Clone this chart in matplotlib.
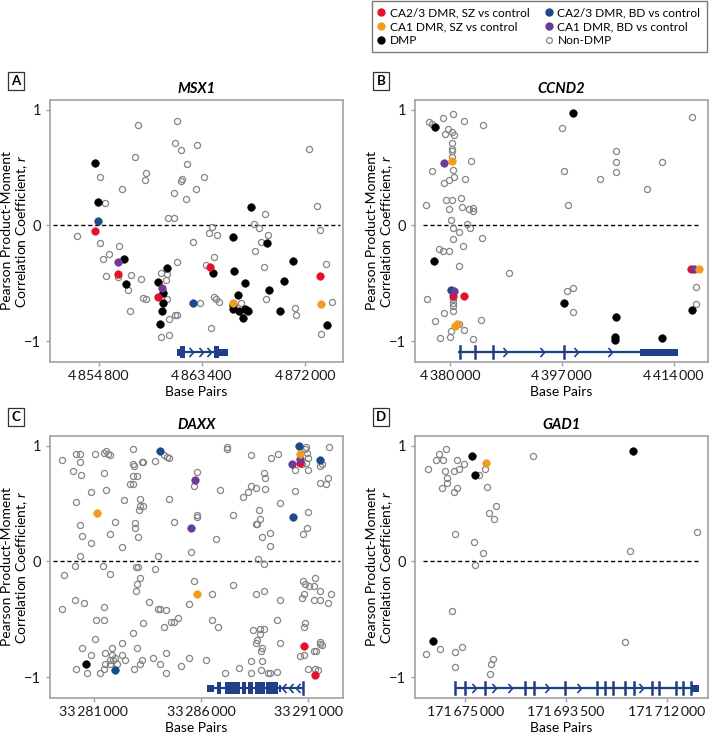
import numpy as np
import matplotlib
matplotlib.use("Agg")
import matplotlib.pyplot as plt
from matplotlib.path import Path
from matplotlib.patches import Rectangle
from matplotlib.lines import Line2D
from matplotlib.ticker import FuncFormatter, FixedLocator

plt.rcParams['font.family'] = ['Lato', 'DejaVu Sans']
plt.rcParams['mathtext.fontset'] = 'custom'
plt.rcParams['mathtext.it'] = 'Lato:italic'
plt.rcParams['mathtext.rm'] = 'Lato'

RED = '#e3122c'
ORANGE = '#f29b1e'
NAVY = '#1b4a88'
PURPLE = '#6c3b97'
GENE = '#1f3f88'
GREY_EDGE = '#858585'
SPINE = '#a3a3a3'

# (position in kb, Pearson r)
MSX1_NONDMP = [(4853.04, -0.09), (4854.88, -0.15), (4854.94, 0.42), (4855.30, 0.19), (4855.16, -0.29),
               (4855.69, -0.25), (4855.44, -0.44), (4856.53, -0.18), (4856.75, 0.31), (4856.39, -0.45),
               (4857.26, -0.56), (4857.45, -0.74), (4857.54, -0.43), (4857.87, 0.59), (4858.07, 0.87),
               (4858.35, -0.46), (4858.51, -0.63), (4858.77, -0.64), (4858.63, 0.39), (4858.77, 0.45),
               (4859.97, -0.41), (4860.52, -0.42), (4860.44, -0.47), (4860.19, -0.58), (4860.52, -0.64),
               (4860.61, 0.06), (4861.08, 0.06), (4861.08, 0.28), (4861.17, 0.71), (4861.36, 0.90),
               (4861.64, 0.65), (4861.78, 0.40), (4861.64, 0.38), (4862.12, 0.23), (4862.20, 0.53),
               (4861.36, -0.32), (4861.31, -0.77), (4861.14, -0.77), (4860.66, -0.81), (4860.02, -0.96),
               (4860.66, -0.95), (4862.90, 0.31), (4862.98, 0.69), (4863.60, 0.42), (4862.70, -0.14),
               (4863.26, -0.67), (4863.79, -0.34), (4864.04, -0.07), (4864.24, -0.01), (4864.43, -0.27),
               (4864.66, -0.08), (4864.43, -0.62), (4864.57, -0.64), (4864.80, -0.66), (4864.21, -0.89),
               (4866.67, -0.67), (4866.67, -0.75), (4867.28, -0.73), (4867.73, 0.01), (4867.87, -0.22),
               (4868.20, -0.02), (4868.34, -0.14), (4868.68, 0.10), (4868.96, -0.08), (4868.59, -0.36),
               (4868.76, -0.64), (4871.19, -0.71), (4871.27, -0.77), (4872.31, 0.66), (4873.03, 0.17),
               (4873.23, -0.04), (4873.31, -0.94), (4873.79, -0.33), (4874.29, -0.66)]
MSX1_DMP = [(4854.52, 0.54), (4854.74, 0.20), (4856.89, -0.29), (4857.12, -0.51), (4859.77, -0.49),
            (4860.19, -0.58), (4860.19, -0.67), (4860.05, -0.74), (4859.91, -0.85), (4860.52, -0.37),
            (4864.35, -0.41), (4865.97, -0.10), (4866.11, -0.39), (4866.39, -0.60), (4865.97, -0.69),
            (4866.05, -0.72), (4866.47, -0.74), (4866.86, -0.80), (4867.03, -0.50), (4867.03, -0.72),
            (4867.28, -0.74), (4867.50, 0.16), (4868.84, -0.15), (4869.01, -0.56), (4870.30, -0.48),
            (4870.99, -0.31), (4869.96, -0.74), (4873.84, -0.86)]
MSX1_CA23_SZ = [(4854.52, -0.05), (4856.39, -0.42), (4859.77, -0.62), (4864.07, -0.36), (4873.23, -0.44)]
MSX1_CA23_BD = [(4854.74, 0.04), (4862.70, -0.67)]
MSX1_CA1_BD = [(4856.39, -0.32), (4860.08, -0.54)]
MSX1_CA1_SZ = [(4865.97, -0.67), (4873.31, -0.68)]

CCND2_NONDMP = [(4376.46, -0.64), (4376.36, 0.18), (4376.86, 0.89), (4377.32, 0.88), (4377.27, 0.47),
                (4377.72, -0.83), (4378.38, -0.20), (4378.48, -0.97), (4378.89, -0.22), (4378.99, 0.93),
                (4379.14, 0.37), (4379.24, 0.79), (4379.34, 0.22), (4379.09, -0.76), (4379.90, 0.14),
                (4379.75, 0.83), (4379.90, 0.39), (4379.90, -0.22), (4380.10, 0.05), (4380.25, 0.81),
                (4380.25, 0.22), (4380.25, 0.71), (4380.25, 0.66), (4380.25, 0.64), (4380.30, 0.59),
                (4380.61, 0.78), (4380.51, 0.96), (4380.51, -0.02), (4380.51, -0.12), (4380.51, 0.48),
                (4380.61, 0.42), (4380.51, -0.64), (4380.51, -0.67), (4380.51, -0.70), (4380.51, -0.74),
                (4380.10, -0.91), (4380.00, -0.96), (4381.42, -0.85), (4382.18, -0.90), (4381.42, -0.06),
                (4381.42, -0.35), (4381.62, 0.24), (4381.77, 0.16), (4381.92, -0.18), (4382.13, 0.90),
                (4382.28, 0.40), (4382.53, 0.01), (4382.93, 0.14), (4383.14, 0.56), (4383.04, -0.02),
                (4383.44, 0.15), (4383.44, 0.12), (4383.44, -0.98), (4384.81, -0.11), (4384.71, -0.82),
                (4385.06, 0.87), (4388.96, -0.41), (4397.10, 0.84), (4397.31, 0.47), (4397.91, 0.18),
                (4397.81, -0.57), (4398.72, -0.54), (4398.72, -0.75), (4402.77, 0.40), (4405.20, 0.64),
                (4405.20, 0.55), (4405.20, 0.46), (4410.01, 0.31), (4412.28, 0.55), (4416.79, 0.94),
                (4417.34, -0.53), (4417.34, -0.68)]
CCND2_DMP = [(4377.72, 0.85), (4377.57, -0.31), (4398.72, 0.97), (4397.31, -0.67), (4405.20, -0.79),
             (4405.15, -0.96), (4405.05, -0.99), (4412.23, -0.97), (4416.79, -0.73)]
CCND2_CA23_SZ = [(4380.40, -0.61), (4382.13, -0.61), (4416.69, -0.38)]
CCND2_CA23_BD = [(4380.10, -0.56)]
CCND2_CA1_BD = [(4379.14, 0.54), (4380.66, -0.57), (4417.09, -0.38)]
CCND2_CA1_SZ = [(4380.25, 0.56), (4381.01, -0.85), (4380.76, -0.87), (4417.85, -0.38)]

DAXX_NONDMP = [(33279.52, 0.88), (33280.19, 0.93), (33280.38, 0.93), (33280.38, 0.86), (33281.05, 0.93),
               (33281.50, 0.94), (33281.56, 0.955), (33281.65, 0.93), (33281.78, 0.915), (33282.84, 0.97),
               (33282.84, 0.84), (33282.87, 0.82), (33283.26, 0.86), (33283.32, 0.86), (33283.85, 0.87),
               (33284.26, 0.915), (33284.43, 0.90), (33284.51, 0.89), (33287.21, 0.97), (33287.21, 0.99),
               (33288.34, 0.92), (33289.26, 0.89), (33289.60, 0.93), (33290.89, 0.99), (33290.85, 0.97),
               (33290.93, 0.94), (33290.99, 0.89), (33290.71, 0.84), (33290.89, 0.85), (33290.99, 0.79),
               (33290.39, 0.79), (33291.52, 0.82), (33291.63, 0.84), (33291.95, 0.99), (33280.03, 0.78),
               (33280.42, 0.75), (33281.47, 0.76), (33282.84, 0.74), (33283.03, 0.74), (33282.71, 0.67),
               (33282.84, 0.67), (33285.79, 0.77), (33285.66, 0.65), (33288.95, 0.76), (33288.99, 0.72),
               (33288.56, 0.63), (33288.99, 0.625), (33287.96, 0.555), (33288.17, 0.595), (33288.34, 0.65),
               (33291.52, 0.68), (33291.83, 0.67), (33291.91, 0.72), (33280.88, 0.60), (33281.56, 0.62),
               (33280.19, 0.51), (33282.40, 0.53), (33283.17, 0.54), (33283.17, 0.48), (33283.32, 0.48),
               (33283.10, 0.44), (33284.51, 0.54), (33286.87, 0.62), (33287.51, 0.40), (33288.71, 0.44),
               (33289.67, 0.50), (33290.39, 0.61), (33290.99, 0.43), (33280.38, 0.31), (33280.45, 0.22),
               (33280.88, 0.16), (33281.75, 0.24), (33281.98, 0.34), (33282.95, 0.33), (33282.95, 0.29),
               (33283.06, 0.21), (33284.75, 0.34), (33285.79, 0.385), (33285.83, 0.40), (33286.69, 0.19),
               (33288.56, 0.325), (33288.60, 0.32), (33288.76, 0.37), (33288.83, 0.21), (33289.23, 0.245),
               (33289.23, 0.13), (33290.93, 0.29), (33290.74, 0.24), (33280.38, 0.05), (33282.31, 0.127),
               (33283.98, 0.048), (33285.55, 0.08), (33288.67, 0.017), (33288.95, -0.026),
               (33280.14, -0.04), (33279.64, -0.12), (33281.42, -0.04), (33281.75, -0.107), (33282.99, -0.05),
               (33283.06, -0.05), (33283.17, -0.14), (33283.03, -0.193), (33282.99, -0.254), (33283.85, -0.066),
               (33279.52, -0.41), (33280.14, -0.33), (33280.56, -0.36), (33281.11, -0.505), (33281.50, -0.505),
               (33281.50, -0.398), (33283.60, -0.349), (33283.98, -0.41), (33284.10, -0.41), (33284.38, -0.42),
               (33284.26, -0.565), (33284.61, -0.522), (33284.75, -0.522), (33284.94, -0.488), (33285.66, -0.173),
               (33285.45, -0.372), (33286.52, -0.28), (33286.52, -0.505), (33286.80, -0.565), (33287.51, -0.202),
               (33288.56, -0.28), (33288.95, -0.254), (33289.67, -0.33), (33289.55, -0.505), (33290.74, -0.173),
               (33290.85, -0.193), (33290.80, -0.28), (33290.71, -0.312), (33291.05, -0.215), (33291.28, -0.215),
               (33291.32, -0.14), (33291.52, -0.254), (33291.28, -0.33), (33291.52, -0.33), (33291.91, -0.36),
               (33292.03, -0.28), (33281.05, -0.67), (33280.45, -0.745), (33280.19, -0.93), (33280.70, -0.96),
               (33280.88, -0.81), (33281.28, -0.96), (33281.53, -0.79), (33281.50, -0.93), (33281.53, -0.885),
               (33281.75, -0.85), (33281.86, -0.81), (33281.86, -0.745), (33281.90, -0.85), (33282.01, -0.835),
               (33281.78, -0.885), (33282.09, -0.885), (33282.31, -0.81), (33282.48, -0.85), (33282.31, -0.704),
               (33282.84, -0.615), (33282.87, -0.93), (33283.17, -0.885), (33283.03, -0.745), (33283.26, -0.85),
               (33283.32, -0.535), (33283.76, -0.835), (33284.10, -0.885), (33284.38, -0.79), (33284.38, -0.96),
               (33285.05, -0.905), (33285.45, -0.835), (33286.22, -0.85), (33287.11, -0.96), (33287.78, -0.92),
               (33288.34, -0.86), (33288.34, -0.96), (33288.40, -0.59), (33288.56, -0.704), (33288.60, -0.68),
               (33288.76, -0.63), (33288.76, -0.585), (33288.79, -0.77), (33288.83, -0.745), (33288.83, -0.86),
               (33288.95, -0.585), (33288.79, -0.94), (33289.13, -0.96), (33289.23, -0.96), (33289.55, -0.955),
               (33289.67, -0.704), (33290.62, -0.82), (33290.80, -0.81), (33290.80, -0.565), (33290.85, -0.535),
               (33290.99, -0.93), (33291.36, -0.77), (33291.52, -0.70), (33291.56, -0.715), (33291.63, -0.725),
               (33291.28, -0.77), (33291.32, -0.93), (33291.44, -0.935)]
DAXX_DMP = [(33280.64, -0.89)]
DAXX_CA23_SZ = [(33290.62, 0.85), (33290.80, -0.73), (33291.32, -0.985)]
DAXX_CA23_BD = [(33284.10, 0.95), (33290.58, 1.0), (33290.27, 0.38), (33281.98, -0.935), (33291.56, 0.88)]
DAXX_CA1_BD = [(33285.72, 0.70), (33285.55, 0.29), (33290.22, 0.84), (33290.62, 0.885)]
DAXX_CA1_SZ = [(33281.16, 0.42), (33285.79, -0.28), (33290.62, 0.93)]

GAD1_NONDMP = [(171668.12, 0.80), (171667.81, -0.80), (171669.65, 0.88), (171670.27, 0.93), (171670.88, 0.88),
               (171671.50, 0.97), (171671.31, 0.78), (171671.62, 0.72), (171671.74, 0.68), (171670.76, 0.63),
               (171670.39, -0.76), (171672.97, 0.78), (171673.03, 0.60), (171673.46, 0.63), (171673.46, 0.88),
               (171673.77, 0.80), (171673.16, 0.24), (171672.54, -0.43), (171673.16, -0.78), (171673.16, -0.91),
               (171674.39, -0.74), (171674.82, 0.84), (171676.54, 0.17), (171676.72, -0.03), (171677.46, 0.75),
               (171678.20, 0.07), (171678.69, 0.80), (171679.00, 0.64), (171679.43, 0.42), (171680.22, 0.37),
               (171680.65, 0.48), (171679.61, -0.97), (171679.79, -0.89), (171680.04, -0.84), (171687.41, 0.91),
               (171704.32, -0.70), (171705.18, 0.09), (171717.59, 0.25)]
GAD1_DMP = [(171676.23, 0.906), (171676.84, 0.742), (171669.16, -0.687), (171705.73, 0.955)]
GAD1_CA23_SZ = []
GAD1_CA23_BD = []
GAD1_CA1_BD = []
GAD1_CA1_SZ = [(171678.87, 0.848)]

# gene models (kb): line extent, exon blocks (start, end, kind), exon ticks, intron chevrons
MSX1_GENE = dict(span=(4861.36, 4865.55),
                 blocks=[(4861.36, 4861.55, 'utr'), (4861.55, 4862.00, 'cds'),
                         (4864.43, 4864.85, 'cds'), (4864.85, 4865.55, 'utr')],
                 ticks=[], chevrons=[4862.48, 4863.32, 4864.01], strand='+')
CCND2_GENE = dict(span=(4381.27, 4414.66),
                  blocks=[(4408.84, 4414.66, 'utr')],
                  ticks=[4381.5, 4383.79, 4386.48, 4397.31],
                  chevrons=[4388.35, 4393.92, 4399.13, 4404.29], strand='+')
DAXX_GENE = dict(span=(33286.30, 33290.78),
                 blocks=[(33286.30, 33286.61, 'utr'), (33286.73, 33286.95, 'cds'), (33287.11, 33287.82, 'cds'),
                         (33287.89, 33288.10, 'cds'), (33288.17, 33288.42, 'cds'), (33288.51, 33288.98, 'cds'),
                         (33289.02, 33289.57, 'cds'), (33289.65, 33289.72, 'utr')],
                 ticks=[33290.74], chevrons=[33289.88, 33290.19, 33290.50], strand='-')
GAD1_GENE = dict(span=(171673.16, 171717.90),
                 blocks=[(171716.67, 171717.90, 'utr')],
                 ticks=[171673.16, 171675.0, 171678.56, 171685.94, 171687.60, 171693.32, 171699.15, 171700.69,
                        171702.17, 171704.38, 171705.91, 171709.29, 171710.52, 171713.72, 171714.95, 171716.36],
                 chevrons=[171676.54, 171680.22, 171683.30, 171690.06, 171695.90, 171707.27], strand='+')

PANELS = [
    ('A', 'MSX1', [4854800, 4863400, 4872000], (4850.75, 4875.18),
     [MSX1_NONDMP, MSX1_DMP, MSX1_CA23_SZ, MSX1_CA23_BD, MSX1_CA1_BD, MSX1_CA1_SZ], MSX1_GENE),
    ('B', 'CCND2', [4380000, 4397000, 4414000], (4374.69, 4419.22),
     [CCND2_NONDMP, CCND2_DMP, CCND2_CA23_SZ, CCND2_CA23_BD, CCND2_CA1_BD, CCND2_CA1_SZ], CCND2_GENE),
    ('C', 'DAXX', [33281000, 33286000, 33291000], (33278.97, 33292.61),
     [DAXX_NONDMP, DAXX_DMP, DAXX_CA23_SZ, DAXX_CA23_BD, DAXX_CA1_BD, DAXX_CA1_SZ], DAXX_GENE),
    ('D', 'GAD1', [171675000, 171693500, 171712000], (171665.78, 171719.56),
     [GAD1_NONDMP, GAD1_DMP, GAD1_CA23_SZ, GAD1_CA23_BD, GAD1_CA1_BD, GAD1_CA1_SZ], GAD1_GENE),
]

LEGEND_LABELS = ['CA2/3 DMR, SZ vs control', 'CA1 DMR, SZ vs control', 'DMP',
                 'CA2/3 DMR, BD vs control', 'CA1 DMR, BD vs control', 'Non-DMP']

GENE_Y = -1.095
BLOCK_H = {'cds': 0.10, 'utr': 0.06}
CHEVRON = Path([(-0.45, 1.0), (0.45, 0.0), (-0.45, -1.0)], [Path.MOVETO, Path.LINETO, Path.LINETO])
CHEVRON_L = Path([(0.45, 1.0), (-0.45, 0.0), (0.45, -1.0)], [Path.MOVETO, Path.LINETO, Path.LINETO])


def bp(vals):
    return np.asarray(vals, dtype=float) * 1000.0


def grouped(v, pos):
    return '{:,}'.format(int(round(v))).replace(',', '\u2009')


def draw_gene(ax, g):
    s, e = bp(g['span'])
    ax.plot([s, e], [GENE_Y, GENE_Y], color=GENE, lw=1.6, solid_capstyle='butt', zorder=2)
    for x0, x1, kind in g['blocks']:
        h = BLOCK_H[kind]
        ax.add_patch(Rectangle((x0 * 1000, GENE_Y - h / 2), (x1 - x0) * 1000, h,
                               facecolor=GENE, edgecolor='none', zorder=3))
    for t in bp(g['ticks']):
        ax.plot([t, t], [GENE_Y - 0.05, GENE_Y + 0.05], color=GENE, lw=1.8, zorder=3)
    mk = CHEVRON if g['strand'] == '+' else CHEVRON_L
    cx = bp(g['chevrons'])
    ax.plot(cx, np.full(len(cx), GENE_Y), ls='none', marker=mk, ms=6.5, mfc='none',
            mec=GENE, mew=1.2, zorder=3)


def scatter_sets(ax, sets):
    nondmp, dmp, ca23_sz, ca23_bd, ca1_bd, ca1_sz = sets
    pts = np.array(nondmp)
    ax.plot(bp(pts[:, 0]), pts[:, 1], 'o', ls='none', ms=4.4, mfc='none', mec=GREY_EDGE, mew=0.9, zorder=4)
    for data, col in [(dmp, 'black'), (ca23_sz, RED), (ca23_bd, NAVY), (ca1_bd, PURPLE), (ca1_sz, ORANGE)]:
        if not data:
            continue
        pts = np.array(data)
        ax.plot(bp(pts[:, 0]), pts[:, 1], 'o', ls='none', ms=5.6, mfc=col, mec=col, mew=0.3, zorder=5)


fig = plt.figure(figsize=(7.11, 7.34), dpi=100)
W, H = 711.0, 734.0
boxes = {'A': (50, 100), 'B': (415, 100), 'C': (50, 436), 'D': (415, 436)}
zero_span = {'A': (0.011, 0.989), 'B': (0.028, 0.965), 'C': (0.011, 0.989), 'D': (0.029, 0.966)}

for label, gene, xticks, xlim, sets, gmodel in PANELS:
    left, top = boxes[label]
    ax = fig.add_axes([left / W, 1 - (top + 262) / H, 293 / W, 262 / H])
    scatter_sets(ax, sets)
    draw_gene(ax, gmodel)
    x0, x1 = zero_span[label]
    ax.axhline(0, xmin=x0, xmax=x1, color='black', lw=1.0, ls=(0, (3, 2)), zorder=1)
    ax.set_xlim(*bp(xlim))
    ax.set_ylim(-1.18, 1.083)
    ax.xaxis.set_major_locator(FixedLocator(xticks))
    ax.xaxis.set_major_formatter(FuncFormatter(grouped))
    ax.set_yticks([-1, 0, 1])
    for sp in ax.spines.values():
        sp.set_color(SPINE)
        sp.set_linewidth(1.2)
    ax.tick_params(colors=SPINE, labelcolor='#1a1a1a', labelsize=10.5, length=3.2, width=1.0, pad=3)
    ax.tick_params(axis='x', labelsize=10.2, pad=2.8)
    ax.set_xlabel('Base Pairs', fontsize=10)
    ax.xaxis.set_label_coords(0.5, -0.09)
    ax.set_ylabel('Pearson Product-Moment\nCorrelation Coefficient, $\\mathit{r}$', fontsize=10,
                  linespacing=1.1)
    ax.yaxis.set_label_coords(-0.068, 0.5)
    ax.set_title(gene, fontsize=10.5, fontstyle='italic', fontweight='bold', pad=5)
    fig.text((left - 34) / W, 1 - (top - 19) / H, label, fontsize=9.5, fontweight='bold',
             ha='center', va='center',
             bbox=dict(boxstyle='square,pad=0.25', facecolor='white', edgecolor='#333333', lw=0.9))

handles = [Line2D([], [], ls='none', marker='o', ms=5.0, mfc=c, mec=c) for c in [RED, ORANGE, 'black', NAVY, PURPLE]]
handles.append(Line2D([], [], ls='none', marker='o', ms=4.2, mfc='none', mec=GREY_EDGE, mew=0.9))
leg = fig.legend(handles, LEGEND_LABELS, ncol=2, loc='upper right',
                 bbox_to_anchor=(707 / W, 1 - 1 / H), fontsize=8.6, frameon=True, fancybox=False,
                 handlelength=0.5, handletextpad=0.45, columnspacing=1.4, labelspacing=0.22,
                 borderpad=0.55, borderaxespad=0)
leg.get_frame().set_edgecolor('#555555')
leg.get_frame().set_linewidth(1.0)

fig.savefig('out.png', dpi=100)
